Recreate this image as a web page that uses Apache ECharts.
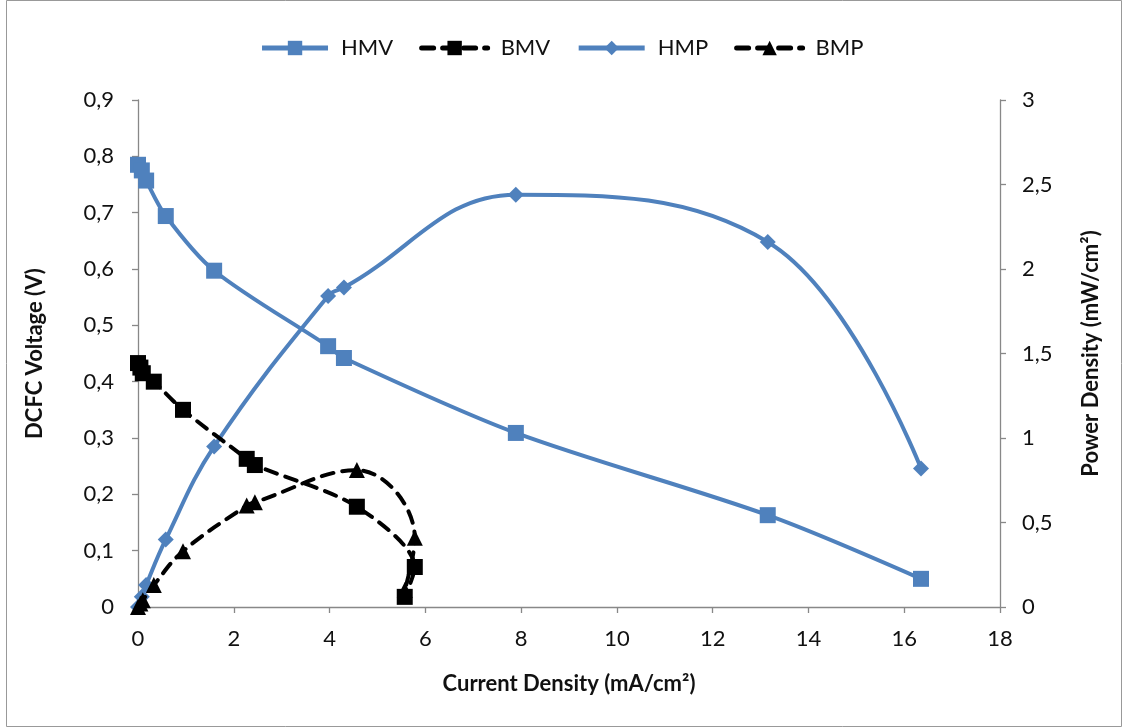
<!DOCTYPE html>
<html><head><meta charset="utf-8">
<script src="https://cdn.jsdelivr.net/npm/echarts@6/dist/echarts.min.js"></script>
<style>html,body{margin:0;padding:0;background:#fff}#c{width:1123px;height:728px}</style>
</head><body><div id="c"></div>
<script>
// HMV: current density (mA/cm2) vs voltage (V)
const hmvX = [0.0, 0.08, 0.17, 0.58, 1.59, 3.97, 4.30, 7.89, 13.15, 16.35];
const hmvY = [0.785, 0.775, 0.757, 0.694, 0.597, 0.463, 0.442, 0.309, 0.163, 0.050];
// HMP: current density vs power density (mW/cm2)
const hmpX = [0.0, 0.08, 0.17, 0.58, 1.59, 3.97, 4.30, 7.89, 13.15, 16.35];
const hmpY = [0.0, 0.06, 0.13, 0.40, 0.95, 1.84, 1.89, 2.44, 2.16, 0.82];
// BMV
const bmvX = [0.0, 0.05, 0.10, 0.33, 0.94, 2.27, 2.44, 4.57, 5.78, 5.57];
const bmvY = [0.433, 0.425, 0.415, 0.400, 0.350, 0.263, 0.252, 0.178, 0.071, 0.018];
// BMP
const bmpX = [0.0, 0.05, 0.10, 0.33, 0.94, 2.27, 2.44, 4.57, 5.78, 5.57];
const bmpY = [0.0, 0.02, 0.04, 0.13, 0.33, 0.60, 0.62, 0.81, 0.41, 0.10];

const xTicks = [0, 18, 2];
const leftTicks = [0, 0.9, 0.1];
const rightTicks = [0, 3, 0.5];

const pair = (xs, ys) => xs.map((x, i) => [x, ys[i]]);
const fmt = v => String(+v.toFixed(2)).replace('.', ',');
const blue = '#4F81BD';
const font = 'Lato, "Open Sans", sans-serif';
const axisCommon = {
  axisLine: {show: true, lineStyle: {color: '#888', width: 1.3}},
  axisTick: {show: true, inside: false, length: 6, lineStyle: {color: '#888', width: 1.3}},
  splitLine: {show: false},
  axisLabel: {color: '#111', fontSize: 22, fontFamily: font, formatter: fmt},
  nameTextStyle: {color: '#111', fontSize: 22, fontWeight: 'bold', fontFamily: font}
};
const chart = echarts.init(document.getElementById('c'));
chart.setOption({
  animation: false,
  backgroundColor: '#fff',
  graphic: [{type: 'rect', shape: {x: 6.5, y: 0.5, width: 1115, height: 726},
    style: {fill: 'none', stroke: '#999', lineWidth: 1}}],
  legend: {
    top: 32, left: 'center', itemWidth: 66, itemHeight: 18, itemGap: 26,
    lineStyle: {width: 5},
    textStyle: {fontSize: 22, fontFamily: font, color: '#111', padding: [0, 0, 0, 8]},
    data: ['HMV', 'BMV', 'HMP', 'BMP']
  },
  grid: {left: 138, right: 123, top: 100, bottom: 121},
  xAxis: Object.assign({}, axisCommon, {
    type: 'value', min: xTicks[0], max: xTicks[1], interval: xTicks[2],
    name: 'Current Density (mA/cm²)', nameLocation: 'middle', nameGap: 66,
    axisLabel: Object.assign({}, axisCommon.axisLabel, {margin: 21})
  }),
  yAxis: [
    Object.assign({}, axisCommon, {
      type: 'value', position: 'left', min: leftTicks[0], max: leftTicks[1], interval: leftTicks[2],
      name: 'DCFC Voltage (V)', nameLocation: 'middle', nameGap: 92, nameRotate: 90,
      axisLabel: Object.assign({}, axisCommon.axisLabel, {margin: 24})
    }),
    Object.assign({}, axisCommon, {
      type: 'value', position: 'right', min: rightTicks[0], max: rightTicks[1], interval: rightTicks[2],
      name: 'Power Density (mW/cm²)', nameLocation: 'middle', nameGap: 80, nameRotate: 90,
      axisLabel: Object.assign({}, axisCommon.axisLabel, {margin: 22})
    })
  ],
  series: [
    {name: 'HMV', type: 'line', yAxisIndex: 0, data: pair(hmvX, hmvY), smooth: 0.3,
      symbol: 'rect', symbolSize: 16, z: 3,
      itemStyle: {color: blue}, lineStyle: {color: blue, width: 4}},
    {name: 'BMV', type: 'line', yAxisIndex: 0, data: pair(bmvX, bmvY), smooth: 0.3,
      symbol: 'rect', symbolSize: 16, z: 4,
      itemStyle: {color: '#000'}, lineStyle: {color: '#000', width: 4, type: [12, 9], cap: 'round'}},
    {name: 'HMP', type: 'line', yAxisIndex: 1, data: pair(hmpX, hmpY), smooth: 0.4,
      symbol: 'diamond', symbolSize: [16, 16], z: 3,
      itemStyle: {color: blue}, lineStyle: {color: blue, width: 4}},
    {name: 'BMP', type: 'line', yAxisIndex: 1, data: pair(bmpX, bmpY), smooth: 0.4,
      symbol: 'triangle', symbolSize: 16, z: 4,
      itemStyle: {color: '#000'}, lineStyle: {color: '#000', width: 4, type: [12, 9], cap: 'round'}}
  ]
});
</script></body></html>
